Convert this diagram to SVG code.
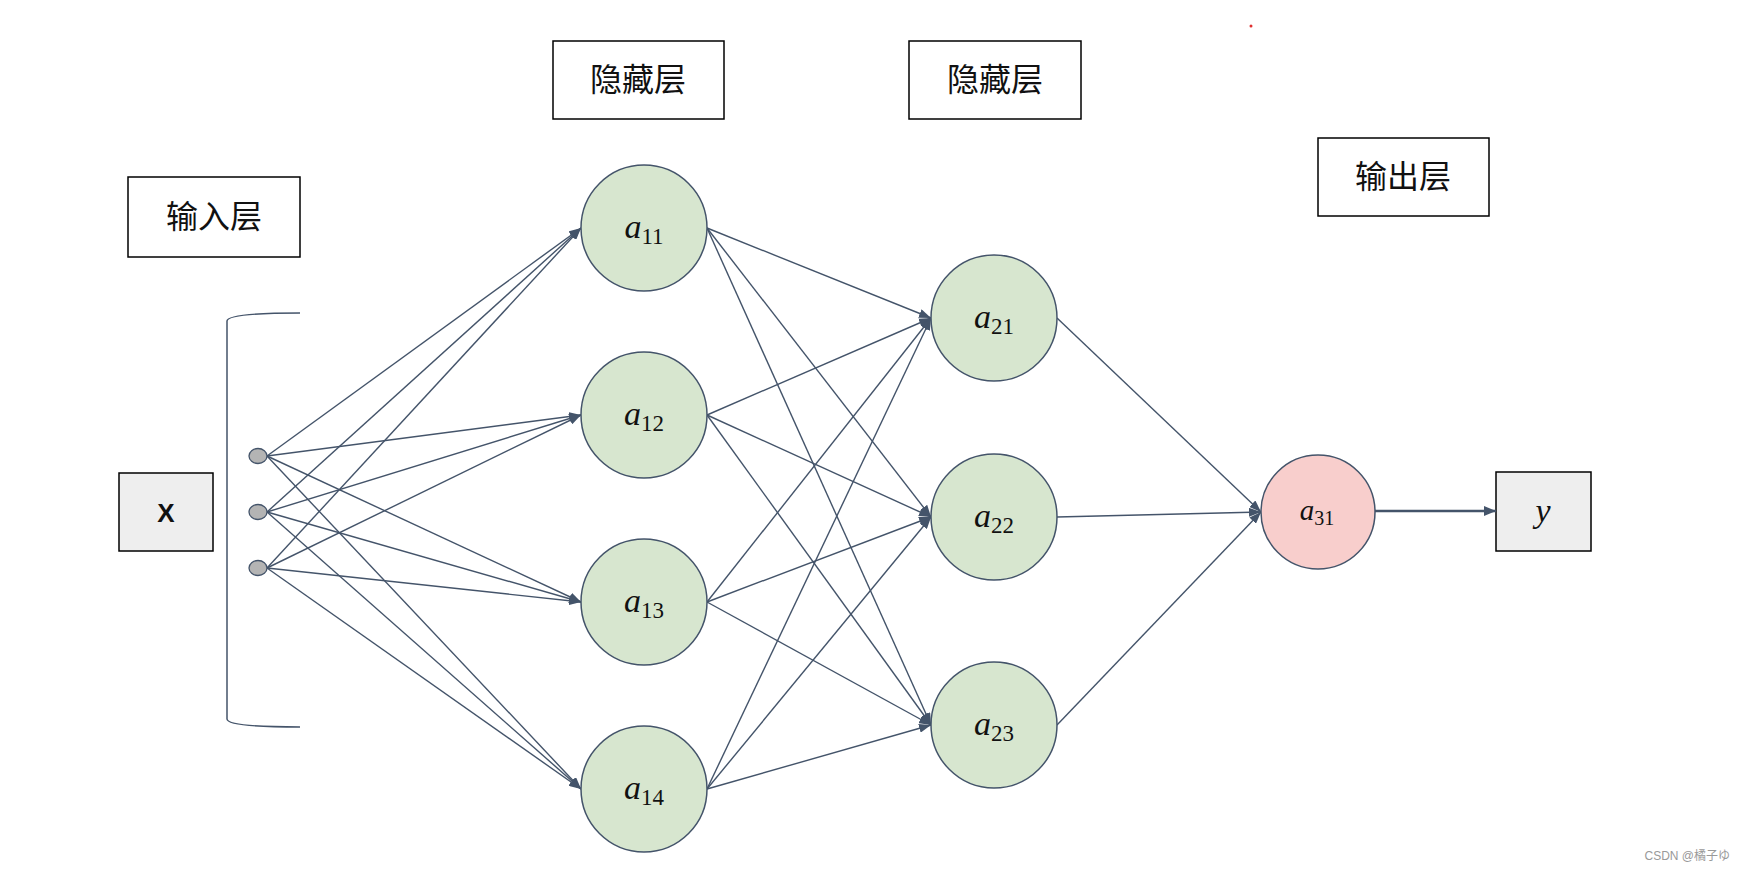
<svg xmlns="http://www.w3.org/2000/svg" width="1745" height="870" viewBox="0 0 1745 870">
<style>
.lbl{fill:#fff;stroke:#000;stroke-width:1.5}
.cn{font-family:"Noto Sans CJK SC","Noto Sans",sans-serif;font-size:32px;fill:#111;text-anchor:middle}
.h{fill:#d7e6cf;stroke:#44546a;stroke-width:1.5}
.o{fill:#f8cecc;stroke:#44546a;stroke-width:1.5}
.var{font-family:"Liberation Serif",serif;font-style:italic;font-size:34px;fill:#111;text-anchor:middle}
.sub{font-style:normal;font-size:23px}
.e{stroke:#44546a;stroke-width:1.4;fill:none;marker-end:url(#ar)}
.dot{fill:#b4b4b4;stroke:#44546a;stroke-width:1.3}
</style>
<defs>
<marker id="ar" viewBox="0 0 12 9" refX="12" refY="4.5" markerWidth="12" markerHeight="9" markerUnits="userSpaceOnUse" orient="auto">
<path d="M0,0 L12,4.5 L0,9 Z" fill="#44546a"/>
</marker>
<marker id="ar2" viewBox="0 0 12 10" refX="12" refY="5" markerWidth="12" markerHeight="10" markerUnits="userSpaceOnUse" orient="auto">
<path d="M0,0 L12,5 L0,10 Z" fill="#44546a"/>
</marker>
</defs>
<rect width="1745" height="870" fill="#fff"/>

<g id="label-input"><rect class="lbl" x="128" y="177" width="172" height="80"/><text class="cn" x="214" y="228">输入层</text></g>
<g id="label-hidden1"><rect class="lbl" x="553" y="41" width="171" height="78"/><text class="cn" x="638" y="91">隐藏层</text></g>
<g id="label-hidden2"><rect class="lbl" x="909" y="41" width="172" height="78"/><text class="cn" x="995" y="91">隐藏层</text></g>
<g id="label-output"><rect class="lbl" x="1318" y="138" width="171" height="78"/><text class="cn" x="1403" y="188">输出层</text></g>

<g id="x-box"><rect x="119" y="473" width="94" height="78" fill="#eeeeee" stroke="#000" stroke-width="1.5"/><text x="166" y="522" font-family="Liberation Sans,Arial,sans-serif" font-weight="bold" font-size="26" text-anchor="middle" fill="#111">X</text></g>
<g id="y-box"><rect x="1496" y="472" width="95" height="79" fill="#eeeeee" stroke="#000" stroke-width="1.5"/><text class="var" x="1543" y="522">y</text></g>

<g id="bracket"><path d="M300,313 Q227,313 227,321 L227,719 Q227,727 300,727" fill="none" stroke="#44546a" stroke-width="1.5"/></g>

<g id="connectors">
<line class="e" x1="267" y1="456" x2="581" y2="228"/>
<line class="e" x1="267" y1="456" x2="581" y2="415"/>
<line class="e" x1="267" y1="456" x2="581" y2="602"/>
<line class="e" x1="267" y1="456" x2="581" y2="789"/>
<line class="e" x1="267" y1="512" x2="581" y2="228"/>
<line class="e" x1="267" y1="512" x2="581" y2="415"/>
<line class="e" x1="267" y1="512" x2="581" y2="602"/>
<line class="e" x1="267" y1="512" x2="581" y2="789"/>
<line class="e" x1="267" y1="568" x2="581" y2="228"/>
<line class="e" x1="267" y1="568" x2="581" y2="415"/>
<line class="e" x1="267" y1="568" x2="581" y2="602"/>
<line class="e" x1="267" y1="568" x2="581" y2="789"/>

<line class="e" x1="707" y1="228" x2="931" y2="318"/>
<line class="e" x1="707" y1="228" x2="931" y2="517"/>
<line class="e" x1="707" y1="228" x2="931" y2="725"/>
<line class="e" x1="707" y1="415" x2="931" y2="318"/>
<line class="e" x1="707" y1="415" x2="931" y2="517"/>
<line class="e" x1="707" y1="415" x2="931" y2="725"/>
<line class="e" x1="707" y1="602" x2="931" y2="318"/>
<line class="e" x1="707" y1="602" x2="931" y2="517"/>
<line class="e" x1="707" y1="602" x2="931" y2="725"/>
<line class="e" x1="707" y1="789" x2="931" y2="318"/>
<line class="e" x1="707" y1="789" x2="931" y2="517"/>
<line class="e" x1="707" y1="789" x2="931" y2="725"/>

<line class="e" x1="1057" y1="318" x2="1261" y2="512"/>
<line class="e" x1="1057" y1="517" x2="1261" y2="512"/>
<line class="e" x1="1057" y1="725" x2="1261" y2="512"/>

<line x1="1375" y1="511" x2="1496" y2="511" stroke="#44546a" stroke-width="2.5" marker-end="url(#ar2)"/>
</g>

<g id="in1"><ellipse class="dot" cx="258" cy="456" rx="9" ry="7.5"/></g>
<g id="in2"><ellipse class="dot" cx="258" cy="512" rx="9" ry="7.5"/></g>
<g id="in3"><ellipse class="dot" cx="258" cy="568" rx="9" ry="7.5"/></g>

<g id="a11"><circle class="h" cx="644" cy="228" r="63"/><text class="var" x="644" y="238">a<tspan class="sub" dy="6">11</tspan></text></g>
<g id="a12"><circle class="h" cx="644" cy="415" r="63"/><text class="var" x="644" y="425">a<tspan class="sub" dy="6">12</tspan></text></g>
<g id="a13"><circle class="h" cx="644" cy="602" r="63"/><text class="var" x="644" y="612">a<tspan class="sub" dy="6">13</tspan></text></g>
<g id="a14"><circle class="h" cx="644" cy="789" r="63"/><text class="var" x="644" y="799">a<tspan class="sub" dy="6">14</tspan></text></g>

<g id="a21"><circle class="h" cx="994" cy="318" r="63"/><text class="var" x="994" y="328">a<tspan class="sub" dy="6">21</tspan></text></g>
<g id="a22"><circle class="h" cx="994" cy="517" r="63"/><text class="var" x="994" y="527">a<tspan class="sub" dy="6">22</tspan></text></g>
<g id="a23"><circle class="h" cx="994" cy="725" r="63"/><text class="var" x="994" y="735">a<tspan class="sub" dy="6">23</tspan></text></g>

<g id="a31"><circle class="o" cx="1318" cy="512" r="57"/><text class="var" x="1317" y="520" style="font-size:29px">a<tspan class="sub" dy="5" style="font-size:20px">31</tspan></text></g>

<circle cx="1251" cy="26" r="1.5" fill="#e03030"/>
<text x="1730" y="860" font-family="Liberation Sans,Noto Sans CJK SC,sans-serif" font-size="12" fill="#999" text-anchor="end">CSDN @橘子ゆ</text>
</svg>
